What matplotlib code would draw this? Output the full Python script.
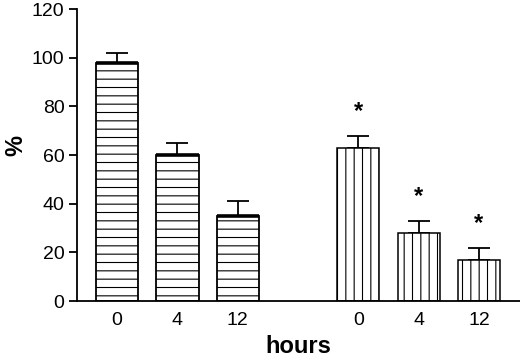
import matplotlib
matplotlib.use("Agg")
import matplotlib.pyplot as plt
import numpy as np

plt.rcParams['font.family'] = ['Liberation Sans', 'DejaVu Sans']
plt.rcParams['hatch.linewidth'] = 0.8

# data
tick_labels = ["0", "4", "12", "0", "4", "12"]
positions = [0, 1, 2, 4, 5, 6]
group1_values = [98, 60, 35]
group1_errors = [4, 5, 6]
group2_values = [63, 28, 17]
group2_errors = [5, 5, 5]
significant = [True, True, True]

fig = plt.figure(figsize=(5.2, 3.61), dpi=100)
ax = fig.add_axes([0.148, 0.166, 0.852, 0.809])

w = 0.7
p1 = positions[:3]
p2 = positions[3:]

ax.bar(p1, group1_values, width=w, color='white', edgecolor='black',
       linewidth=1.3, hatch='--', zorder=2)
ax.hlines(group1_values, np.array(p1) - w / 2, np.array(p1) + w / 2,
          colors='black', linewidth=2.6, zorder=3)
ax.bar(p2, group2_values, width=w, color='white', edgecolor='black',
       linewidth=1.1, hatch='||', zorder=2)

err_kw = dict(fmt='none', ecolor='black', elinewidth=1.3, capsize=8,
              capthick=1.3, zorder=1)
ax.errorbar(p1, group1_values, yerr=[np.zeros(3), group1_errors], **err_kw)
ax.errorbar(p2, group2_values, yerr=[np.zeros(3), group2_errors], **err_kw)

for x, v, e, s in zip(p2, group2_values, group2_errors, significant):
    if s:
        ax.annotate('*', (x, v + e), xytext=(0, 9), textcoords='offset points',
                    ha='center', va='bottom', fontsize=17, fontweight='bold')

ax.set_xlim(-0.665, 6.68)
ax.set_ylim(0, 120)
ax.set_yticks([0, 20, 40, 60, 80, 100, 120])
ax.set_xticks(positions)
ax.set_xticklabels(tick_labels)

for sp in ['top', 'right']:
    ax.spines[sp].set_visible(False)
ax.spines['left'].set_linewidth(1.3)
ax.spines['bottom'].set_linewidth(1.3)

ax.tick_params(axis='y', length=6, width=1.3, labelsize=14, pad=3)
ax.tick_params(axis='x', length=0, labelsize=14, pad=8)

ax.set_xlabel('hours', fontsize=17, fontweight='bold', labelpad=4)
ax.set_ylabel('%', fontsize=17, fontweight='bold')
ax.yaxis.set_label_coords(-0.112, 0.534)

fig.savefig('out.png', dpi=100)
